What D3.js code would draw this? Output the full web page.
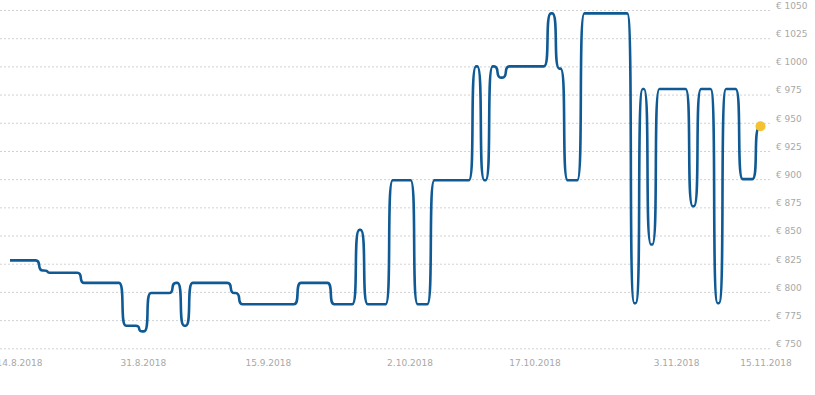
<!DOCTYPE html>
<html>
<head>
<meta charset="utf-8">
<script src="https://cdn.jsdelivr.net/npm/d3@7"></script>
<style>
	body { margin: 0; background: #fff; }
	text { font-family: "DejaVu Sans", Verdana, sans-serif; font-size: 9px; fill: #a8a8a8; }
</style>
</head>
<body>
<div id="graph"></div>
<script>
var width = 815;
var height = 395;

// first day of the series, one price per day after it
var startDay = "2018-08-15";

var prices = [
	828, 828, 828, 828, 819, 817, 817, 817, 817, 808,
	808, 808, 808, 808, 770, 770, 765, 799, 799, 799,
	808, 770, 808, 808, 808, 808, 808, 799, 789, 789,
	789, 789, 789, 789, 789, 808, 808, 808, 808, 789,
	789, 789, 855, 789, 789, 789, 899, 899, 899, 789,
	789, 899, 899, 899, 899, 899, 1000, 899, 1000, 990,
	1000, 1000, 1000, 1000, 1000, 1047, 998, 899, 899, 1047,
	1047, 1047, 1047, 1047, 1047, 790, 980, 842, 980, 980,
	980, 980, 876, 980, 980, 790, 980, 980, 900, 900,
	946
	];

var tickDays = ["2018-08-14", "2018-08-31", "2018-09-15", "2018-10-02", "2018-10-17", "2018-11-03", "2018-11-15"];
var tickLabels = ["14.8.2018", "31.8.2018", "15.9.2018", "2.10.2018", "17.10.2018", "3.11.2018", "15.11.2018"];

var yTicks = [750, 775, 800, 825, 850, 875, 900, 925, 950, 975, 1000, 1025, 1050];

var parse = d3.timeParse("%Y-%m-%d");
var first = parse(startDay);

var points = prices.map((p, i) => ({ date: d3.timeDay.offset(first, i), price: p }));

var x = d3.scaleTime()
	.domain([points[0].date, points[points.length - 1].date])
	.range([10, 760]);

var y = d3.scaleLinear()
	.domain([750, 1050])
	.range([348.3, 10]);

// each price is held flat for a moment, then turns into the next one
// with rounded corners (reach near 1 gives an almost upright middle)
function holdCurve(hold, reach) {
	return function(context) {
		var n, px, py;
		return {
			areaStart: function() {},
			areaEnd: function() {},
			lineStart: function() { n = 0; },
			lineEnd: function() { if (n > 1) context.lineTo(px, py); },
			point: function(x, y) {
				x = +x; y = +y;
				if (n === 0) {
					context.moveTo(x, y);
				} else {
					var xa = px + hold, xb = x - hold, w = xb - xa;
					context.lineTo(xa, py);
					if (py === y) context.lineTo(xb, y);
					else context.bezierCurveTo(xa + reach * w, py, xb - reach * w, y, xb, y);
				}
				px = x; py = y; n++;
			}
		};
	};
}

var svg = d3.select("#graph")
	.append("svg")
		.attr("width", width)
		.attr("height", height)
	;

// dotted grid lines
svg.append("g")
	.selectAll("line")
	.data(yTicks)
	.enter()
		.append("line")
			.attr("x1", 0)
			.attr("x2", 770)
			.attr("y1", d => y(d) + 0.5)
			.attr("y2", d => y(d) + 0.5)
			.attr("stroke", "#d2d2d2")
			.attr("stroke-dasharray", "2,2")
	;

// price labels on the right
svg.append("g")
	.selectAll("text")
	.data(yTicks)
	.enter()
		.append("text")
			.attr("x", 776)
			.attr("y", d => y(d) - 1.2)
			.text(d => "€ " + d)
	;

// date labels, the last one kept inside the chart
var labelMin = 19.5, labelMax = 766;
svg.append("g")
	.selectAll("text")
	.data(tickDays)
	.enter()
		.append("text")
			.attr("x", d => Math.min(labelMax, Math.max(labelMin, x(parse(d)))))
			.attr("y", 366)
			.attr("text-anchor", "middle")
			.text((d, i) => tickLabels[i])
	;

var line = d3.line()
	.x(d => x(d.date))
	.y(d => y(d.price))
	.curve(holdCurve(0.6, 0.9));

svg.append("path")
	.datum(points)
	.attr("d", line)
	.attr("fill", "none")
	.attr("stroke", "#0f5a94")
	.attr("stroke-width", 2.6)
	.attr("stroke-linejoin", "round")
	;

var last = points[points.length - 1];
svg.append("circle")
	.attr("cx", x(last.date) + 0.5)
	.attr("cy", y(last.price) - 1)
	.attr("r", 5)
	.attr("fill", "#f2c230")
	;
</script>
</body>
</html>
